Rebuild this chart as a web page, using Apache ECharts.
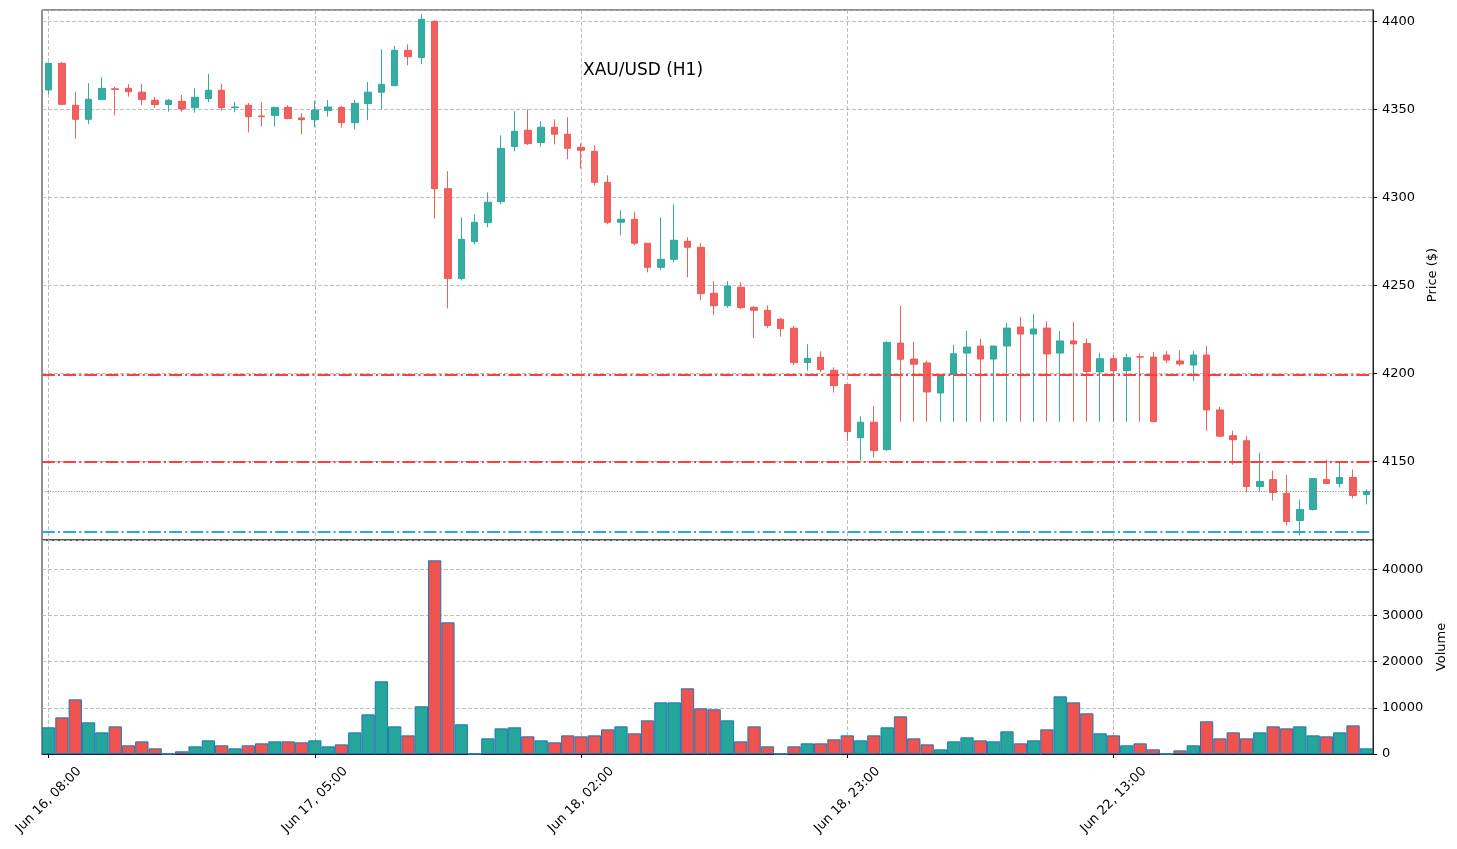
<!DOCTYPE html>
<html>
<head>
<meta charset="utf-8">
<title>XAU/USD (H1)</title>
<script src="https://cdn.jsdelivr.net/npm/echarts@6.0.0/dist/echarts.min.js"></script>
<style>
  html, body { margin: 0; padding: 0; background: #fff; }
  #chart { width: 1457px; height: 849px; }
</style>
</head>
<body>
<div id="chart"></div>
<script>
// x tick labels, keyed by bar index
const tickLabels = {
  0: 'Jun 16, 08:00',
  20: 'Jun 17, 05:00',
  40: 'Jun 18, 02:00',
  60: 'Jun 18, 23:00',
  80: 'Jun 22, 13:00'
}

const opens = [
  4361.0, 4376.1, 4352.3, 4344.3, 4355.5, 4361.6, 4361.9, 4359.7, 4355.1, 4352.7,
  4354.5, 4350.9, 4356.1, 4360.8, 4350.9, 4352.3, 4346.2, 4346.4, 4351.1, 4345.1,
  4344.1, 4349.2, 4351.1, 4342.4, 4353.2, 4359.7, 4363.4, 4383.5, 4379.4, 4400.0,
  4304.9, 4253.8, 4274.8, 4285.6, 4297.5, 4328.8, 4338.1, 4331.1, 4339.8, 4335.8,
  4328.4, 4326.1, 4308.5, 4285.8, 4287.5, 4273.9, 4260.2, 4264.8, 4275.0, 4271.6,
  4245.5, 4238.4, 4248.9, 4237.5, 4235.8, 4230.7, 4225.6, 4206.1, 4209.1, 4201.7,
  4193.7, 4163.4, 4172.2, 4156.6, 4217.2, 4208.1, 4205.9, 4188.8, 4199.3, 4211.5,
  4215.5, 4208.1, 4215.5, 4226.3, 4222.3, 4225.7, 4211.5, 4218.4, 4216.9, 4200.8,
  4208.3, 4201.5, 4209.4, 4209.2, 4210.4, 4207.0, 4204.7, 4210.4, 4179.2, 4164.5,
  4161.7, 4135.7, 4139.6, 4131.7, 4116.4, 4122.6, 4139.6, 4137.4, 4140.8, 4131.1
]
const closes = [
  4376.1, 4352.8, 4344.3, 4355.7, 4361.9, 4361.3, 4360.0, 4355.5, 4352.7, 4355.1,
  4350.2, 4356.8, 4360.8, 4350.9, 4351.3, 4345.8, 4345.8, 4351.1, 4344.7, 4344.1,
  4349.6, 4351.3, 4342.4, 4353.4, 4359.7, 4364.2, 4383.5, 4379.9, 4401.1, 4304.9,
  4253.8, 4276.1, 4285.8, 4297.2, 4327.8, 4337.5, 4330.5, 4339.8, 4335.8, 4327.8,
  4326.7, 4308.5, 4285.8, 4287.5, 4273.9, 4260.2, 4264.8, 4275.6, 4271.6, 4245.3,
  4238.4, 4249.6, 4237.3, 4235.8, 4227.1, 4225.4, 4206.1, 4208.5, 4202.1, 4193.0,
  4166.9, 4172.2, 4156.1, 4217.6, 4208.0, 4205.2, 4189.4, 4198.9, 4211.1, 4214.9,
  4208.1, 4215.5, 4225.7, 4222.3, 4225.2, 4211.0, 4218.4, 4216.7, 4201.0, 4208.3,
  4201.5, 4208.9, 4209.2, 4172.5, 4207.5, 4205.3, 4210.4, 4179.2, 4164.3, 4162.3,
  4135.7, 4138.5, 4132.3, 4115.8, 4122.6, 4140.2, 4137.4, 4140.8, 4130.6, 4132.8
]
const lows = [
  4358.5, 4352.8, 4333.3, 4341.5, 4355.5, 4346.6, 4357.2, 4352.3, 4350.9, 4348.7,
  4348.7, 4348.1, 4354.0, 4349.2, 4348.3, 4336.9, 4340.2, 4340.2, 4344.3, 4335.8,
  4339.8, 4345.8, 4339.6, 4338.6, 4343.8, 4350.0, 4363.4, 4375.0, 4375.6, 4287.9,
  4236.9, 4252.7, 4273.3, 4283.0, 4296.0, 4326.1, 4329.7, 4328.8, 4330.1, 4321.6,
  4316.3, 4306.8, 4284.7, 4278.4, 4272.7, 4257.4, 4258.5, 4263.1, 4254.5, 4241.5,
  4233.0, 4237.3, 4236.6, 4219.9, 4225.9, 4220.8, 4204.5, 4201.5, 4200.6, 4189.0,
  4161.6, 4150.6, 4152.3, 4156.1, 4172.5, 4172.5, 4172.5, 4172.5, 4172.5, 4172.5,
  4172.5, 4172.5, 4172.5, 4172.5, 4172.5, 4172.5, 4172.5, 4172.5, 4172.5, 4172.5,
  4172.3, 4172.5, 4172.5, 4172.5, 4205.8, 4204.2, 4195.7, 4167.4, 4163.8, 4148.1,
  4132.3, 4132.8, 4127.7, 4113.6, 4107.9, 4122.1, 4137.4, 4135.1, 4128.9, 4125.5
]
const highs = [
  4376.6, 4376.7, 4360.0, 4364.8, 4368.2, 4362.7, 4364.4, 4364.4, 4357.0, 4355.9,
  4358.1, 4361.9, 4370.1, 4364.4, 4354.2, 4353.6, 4354.2, 4351.1, 4352.3, 4347.7,
  4354.9, 4355.3, 4351.9, 4355.3, 4365.5, 4384.1, 4386.0, 4386.9, 4404.0, 4400.5,
  4314.8, 4288.6, 4290.3, 4302.8, 4335.2, 4348.9, 4350.0, 4343.2, 4344.3, 4345.5,
  4330.7, 4329.5, 4312.5, 4292.6, 4291.5, 4273.9, 4288.6, 4296.0, 4277.3, 4273.9,
  4252.3, 4252.3, 4251.7, 4238.3, 4238.6, 4231.4, 4226.9, 4216.5, 4212.5, 4203.4,
  4193.7, 4175.6, 4181.3, 4218.0, 4238.3, 4217.8, 4207.2, 4198.9, 4216.2, 4224.2,
  4219.5, 4215.5, 4228.6, 4232.0, 4233.7, 4229.5, 4223.9, 4229.2, 4219.7, 4211.7,
  4210.4, 4211.2, 4211.3, 4212.1, 4212.6, 4213.2, 4212.6, 4215.5, 4180.9, 4167.4,
  4164.5, 4154.9, 4144.7, 4142.5, 4128.3, 4140.2, 4150.9, 4149.8, 4145.3, 4134.0
]
const volumes = [
  5780, 7940, 11840, 6860, 4690, 5990, 1880, 2740, 1230, 0,
  580, 1660, 2960, 1880, 1230, 1880, 2310, 2740, 2740, 2530,
  2960, 1660, 2090, 4690, 8590, 15740, 5990, 4040, 10330, 41950,
  28520, 6430, 0, 3390, 5560, 5780, 3830, 2960, 2530, 4040,
  3830, 4040, 5340, 5990, 4480, 7290, 11190, 11190, 14220, 9890,
  9680, 7290, 2740, 5990, 1660, 0, 1660, 2310, 2310, 3180,
  4040, 2960, 4040, 5780, 8160, 3390, 2090, 1010, 2740, 3610,
  2960, 2740, 4910, 2310, 2960, 5340, 12490, 11190, 8810, 4480,
  4040, 1880, 2310, 1010, 0, 790, 1880, 7080, 3390, 4690,
  3390, 4690, 5990, 5560, 5990, 4040, 3830, 4690, 6210, 1230
]

// horizontal levels drawn across the price pane
const redLevels = [4199, 4150]
const blueLevels = [4110]

const UP = '#26a69a'
const DOWN = '#ef5350'
const GRID_LINE = { color: '#b0b0b0', type: [4, 2], width: 0.8 }
const FONT = 'DejaVu Sans'

const categories = opens.map((_, i) => String(i))
const candles = opens.map((o, i) => [o, closes[i], lows[i], highs[i]])
const volumeData = volumes.map((v, i) => ({
  value: v,
  itemStyle: { color: closes[i] >= opens[i] ? UP : DOWN }
}))
const lastClose = closes[closes.length - 1]
const showTick = (index) => tickLabels[index] !== undefined
const plainNumber = (v) => String(v)

const levelLines = [
  ...redLevels.map(y => ({ yAxis: y, lineStyle: { color: '#ff3d3d', type: [12.8, 3.2, 2, 3.2], width: 2 } })),
  ...blueLevels.map(y => ({ yAxis: y, lineStyle: { color: '#27a9e1', type: [12.8, 3.2, 2, 3.2], width: 2 } })),
  { yAxis: lastClose, lineStyle: { color: '#808080', type: [1, 1.65], width: 1 } }
]

const chart = echarts.init(document.getElementById('chart'))

chart.setOption({
  animation: false,
  backgroundColor: '#fff',
  textStyle: { fontFamily: FONT },
  title: {
    text: 'XAU/USD (H1)',
    left: 578,
    top: 57,
    textStyle: { fontSize: 17, fontWeight: 'normal', fontFamily: FONT, color: '#000' }
  },
  grid: [
    { left: 42, right: 84, top: 10, height: 530, outerBoundsMode: 'none', show: true, borderColor: '#222', borderWidth: 1 },
    { left: 42, right: 84, top: 540, height: 214, outerBoundsMode: 'none', show: true, borderColor: '#222', borderWidth: 1 }
  ],
  xAxis: [
    {
      type: 'category',
      gridIndex: 0,
      data: categories,
      boundaryGap: true,
      axisLine: { show: false },
      axisTick: { show: false },
      axisLabel: { show: false },
      splitLine: { show: true, interval: showTick, alignWithLabel: true, lineStyle: GRID_LINE }
    },
    {
      type: 'category',
      gridIndex: 1,
      data: categories,
      boundaryGap: true,
      axisLine: { show: true, lineStyle: { color: '#222' } },
      axisTick: { show: true, interval: showTick, alignWithLabel: true, length: 4, lineStyle: { color: '#000' } },
      axisLabel: {
        interval: showTick,
        formatter: (value) => tickLabels[value] || '',
        rotate: 45,
        align: 'center',
        verticalAlign: 'middle',
        margin: 46,
        fontSize: 13,
        fontFamily: FONT,
        color: '#000'
      },
      splitLine: { show: true, interval: showTick, alignWithLabel: true, lineStyle: GRID_LINE }
    }
  ],
  yAxis: [
    {
      type: 'value',
      gridIndex: 0,
      position: 'right',
      min: 4105.3,
      max: 4406.4,
      splitNumber: 6,
      name: 'Price ($)',
      nameLocation: 'middle',
      nameRotate: 90,
      nameGap: 52,
      nameTextStyle: { fontSize: 13, fontFamily: FONT, color: '#000' },
      axisLine: { show: true, lineStyle: { color: '#222' } },
      axisTick: { show: true, length: 4, lineStyle: { color: '#000' } },
      axisLabel: { formatter: plainNumber, showMinLabel: false, showMaxLabel: false, margin: 9, fontSize: 13, fontFamily: FONT, color: '#000' },
      splitLine: { show: true, lineStyle: GRID_LINE }
    },
    {
      type: 'value',
      gridIndex: 1,
      position: 'right',
      min: 0,
      max: 46350,
      interval: 10000,
      name: 'Volume',
      nameLocation: 'middle',
      nameRotate: 90,
      nameGap: 62,
      nameTextStyle: { fontSize: 13, fontFamily: FONT, color: '#000' },
      axisLine: { show: true, lineStyle: { color: '#222' } },
      axisTick: { show: true, length: 4, lineStyle: { color: '#000' } },
      axisLabel: { formatter: plainNumber, showMaxLabel: false, margin: 9, fontSize: 13, fontFamily: FONT, color: '#000' },
      splitLine: { show: true, lineStyle: GRID_LINE }
    }
  ],
  series: [
    {
      name: 'XAU/USD',
      type: 'candlestick',
      xAxisIndex: 0,
      yAxisIndex: 0,
      data: candles,
      barWidth: 7,
      itemStyle: {
        color: UP,
        color0: DOWN,
        borderColor: UP,
        borderColor0: DOWN,
        borderWidth: 1,
        opacity: 0.92
      },
      markLine: {
        silent: true,
        symbol: ['none', 'none'],
        label: { show: false },
        data: levelLines
      }
    },
    {
      name: 'Volume',
      type: 'bar',
      xAxisIndex: 1,
      yAxisIndex: 1,
      data: volumeData,
      barWidth: '100%',
      itemStyle: { borderColor: '#1f77b4', borderWidth: 1 }
    }
  ]
})
</script>
</body>
</html>
